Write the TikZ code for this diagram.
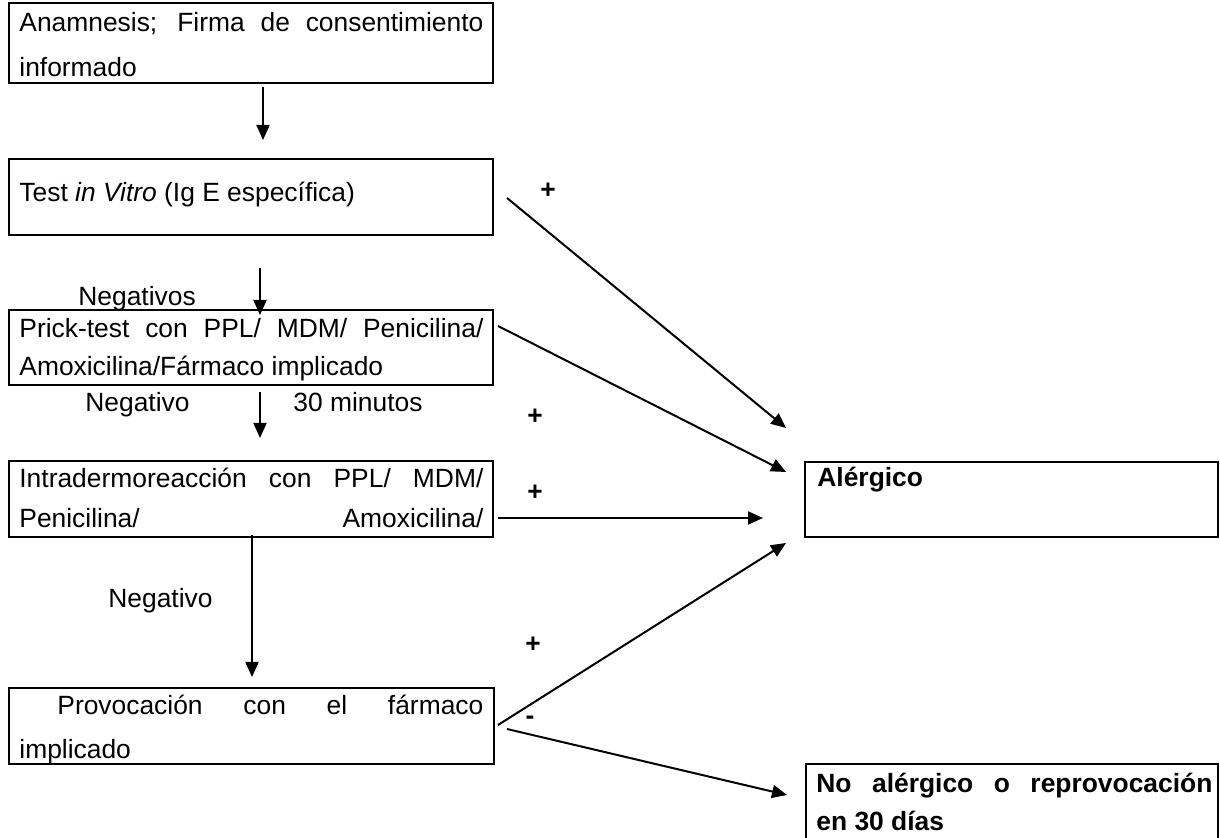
\documentclass[tikz,border=0pt]{standalone}
\usepackage{fontspec}
\setmainfont{Liberation Sans}
\usetikzlibrary{arrows.meta,calc}
\begin{document}
\begin{tikzpicture}[x=0.5pt,y=-0.5pt,
  box/.style={draw,line width=1.4pt,inner sep=0pt,rectangle},
  txt/.style={anchor=base west,inner sep=0pt,font=\fontsize{13.2}{15}\selectfont},
  btxt/.style={anchor=base west,inner sep=0pt,font=\fontsize{13.2}{15}\selectfont\bfseries},
  sign/.style={inner sep=0pt,font=\fontsize{13.2}{15}\selectfont\bfseries},
  arr/.style={line width=1pt,-{Triangle[length=7.5pt,width=6.5pt]}}]
\path[use as bounding box,fill=white] (0,0) rectangle (1220,838);
\clip (0,0) rectangle (1220,838);

% boxes
\node[box,minimum width=242pt,minimum height=40pt] (b1) at (251,43) {};
\node[box,minimum width=242pt,minimum height=38pt] (b2) at (251,197) {};
\node[box,minimum width=242pt,minimum height=37.5pt] (b3) at (251,347.5) {};
\node[box,minimum width=242pt,minimum height=38pt] (b4) at (251,499) {};
\node[box,minimum width=242.5pt,minimum height=38pt] (b5) at (251.5,726) {};
\node[box,minimum width=206.5pt,minimum height=37.5pt] (al) at (1011.5,499.5) {};
\node[box,minimum width=206pt,minimum height=45pt] (na) at (1012,809) {};

% texts
\node[txt] (t1a) at (19,32) {\makebox[232pt][s]{Anamnesis; Firma de consentimiento}};
\node[txt] (t1b) at (19,77) {informado};
\node[txt] (t2) at (19,202) {Test \textit{in Vitro} (Ig E específica)};
\node[txt] (t3a) at (19,338) {\makebox[232pt][s]{Prick-test con PPL/ MDM/ Penicilina/}};
\node[txt] (t3b) at (19,376) {Amoxicilina/Fármaco implicado};
\node[txt] (t4a) at (19,488) {\makebox[232pt][s]{Intradermoreacción con PPL/ MDM/}};
\node[txt] (t4b) at (19,528) {\makebox[232pt][s]{Penicilina/ Amoxicilina/}};
\node[txt] (t5a) at (57,714) {\makebox[213pt][s]{Provocación con el fármaco}};
\node[txt] (t5b) at (19,758) {implicado};
\node[btxt] (tal) at (817,487) {Alérgico};
\node[btxt] (tna1) at (816,792) {\makebox[198pt][s]{No alérgico o reprovocación}};
\node[btxt] (tna2) at (816,830) {en 30 días};

% edge labels
\node[txt] (lneg1) at (78,306) {Negativos};
\node[txt] (lneg2) at (85,412) {Negativo};
\node[txt] (l30) at (293,412) {30 minutos};
\node[txt] (lneg3) at (108,608) {Negativo};
\node[sign] (p1) at (548,191) {+};
\node[sign] (p2) at (535,417) {+};
\node[sign] (p3) at (535,493) {+};
\node[sign] (p4) at (533,645) {+};
\node[sign] (m1) at (530,720) {-};

% connector end points
\coordinate (v1s) at (263,87);  \coordinate (v1e) at (263,140);
\coordinate (v2s) at (260,268); \coordinate (v2e) at (260,315);
\coordinate (v3s) at (260,392); \coordinate (v3e) at (260,438);
\coordinate (v4s) at (252,535); \coordinate (v4e) at (252,677);
\coordinate (aAs) at (507,198); \coordinate (aAe) at (786,428);
\coordinate (aBs) at (498,326); \coordinate (aBe) at (786,472);
\coordinate (aCs) at (498,518); \coordinate (aCe) at (763,518);
\coordinate (aDs) at (498,725); \coordinate (aDe) at (786,543);
\coordinate (aEs) at (507,729); \coordinate (aEe) at (787,795);

\draw[arr] (v1s) -- (v1e);
\draw[arr] (v2s) -- (v2e);
\draw[arr] (v3s) -- (v3e);
\draw[arr] (v4s) -- (v4e);
\draw[arr] (aAs) -- (aAe);
\draw[arr] (aBs) -- (aBe);
\draw[arr] (aCs) -- (aCe);
\draw[arr] (aDs) -- (aDe);
\draw[arr] (aEs) -- (aEe);
\end{tikzpicture}
\end{document}
